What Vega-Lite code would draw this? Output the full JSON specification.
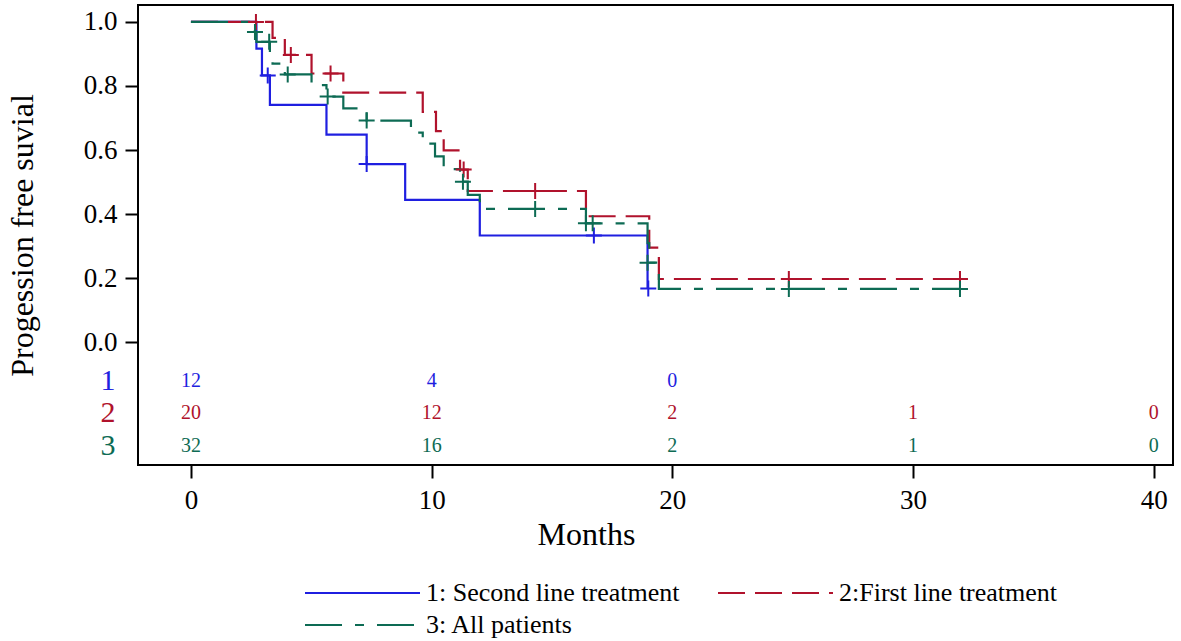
{
  "$schema": "https://vega.github.io/schema/vega-lite/v6.json",
  "width": 1035,
  "height": 460,
  "padding": {"left": 6, "top": 5, "right": 8, "bottom": 0},
  "background": "white",
  "config": {
    "view": {"stroke": "black", "strokeWidth": 2},
    "font": "Liberation Serif",
    "text": {"font": "Liberation Serif"},
    "axis": {
      "grid": false,
      "domain": false,
      "tickColor": "black",
      "tickWidth": 2,
      "tickSize": 13,
      "labelFont": "Liberation Serif",
      "labelFontSize": 27,
      "labelColor": "black",
      "titleFont": "Liberation Serif",
      "titleFontSize": 32,
      "titleFontWeight": "normal",
      "titleColor": "black"
    },
    "legend": {
      "title": null,
      "orient": "none",
      "columns": 2,
      "direction": "horizontal",
      "symbolType": "M0,0L10,0",
      "symbolSize": 529,
      "symbolStrokeWidth": 2,
      "symbolFillColor": "transparent",
      "labelFont": "Liberation Serif",
      "labelFontSize": 26,
      "labelColor": "black",
      "labelOffset": 108,
      "labelLimit": 400,
      "columnPadding": 25,
      "rowPadding": 6
    }
  },
  "datasets": {
    "curves": [
      {"group": "1: Second line treatment", "t": 0, "s": 1},
      {"group": "1: Second line treatment", "t": 2.72, "s": 0.917},
      {"group": "1: Second line treatment", "t": 2.95, "s": 0.833},
      {"group": "1: Second line treatment", "t": 3.28, "s": 0.741},
      {"group": "1: Second line treatment", "t": 5.63, "s": 0.648},
      {"group": "1: Second line treatment", "t": 7.3, "s": 0.556},
      {"group": "1: Second line treatment", "t": 8.9, "s": 0.444},
      {"group": "1: Second line treatment", "t": 12.0, "s": 0.333},
      {"group": "1: Second line treatment", "t": 18.97, "s": 0.167},
      {"group": "2:First line treatment", "t": 0, "s": 1},
      {"group": "2:First line treatment", "t": 3.39, "s": 0.95},
      {"group": "2:First line treatment", "t": 3.9, "s": 0.897},
      {"group": "2:First line treatment", "t": 5.01, "s": 0.839},
      {"group": "2:First line treatment", "t": 6.33, "s": 0.779},
      {"group": "2:First line treatment", "t": 9.63, "s": 0.719},
      {"group": "2:First line treatment", "t": 10.18, "s": 0.659},
      {"group": "2:First line treatment", "t": 10.5, "s": 0.599},
      {"group": "2:First line treatment", "t": 11.18, "s": 0.539},
      {"group": "2:First line treatment", "t": 11.5, "s": 0.472},
      {"group": "2:First line treatment", "t": 16.41, "s": 0.393},
      {"group": "2:First line treatment", "t": 19.04, "s": 0.295},
      {"group": "2:First line treatment", "t": 19.44, "s": 0.197},
      {"group": "2:First line treatment", "t": 31.95, "s": 0.197},
      {"group": "3: All patients", "t": 0, "s": 1},
      {"group": "3: All patients", "t": 2.63, "s": 0.969},
      {"group": "3: All patients", "t": 2.72, "s": 0.938},
      {"group": "3: All patients", "t": 3.28, "s": 0.906},
      {"group": "3: All patients", "t": 3.39, "s": 0.87},
      {"group": "3: All patients", "t": 3.9, "s": 0.836},
      {"group": "3: All patients", "t": 5.01, "s": 0.803},
      {"group": "3: All patients", "t": 5.63, "s": 0.767},
      {"group": "3: All patients", "t": 6.33, "s": 0.73},
      {"group": "3: All patients", "t": 7.3, "s": 0.692},
      {"group": "3: All patients", "t": 9.14, "s": 0.654},
      {"group": "3: All patients", "t": 9.63, "s": 0.62},
      {"group": "3: All patients", "t": 10.14, "s": 0.58},
      {"group": "3: All patients", "t": 10.5, "s": 0.54},
      {"group": "3: All patients", "t": 11.18, "s": 0.501},
      {"group": "3: All patients", "t": 11.5, "s": 0.46},
      {"group": "3: All patients", "t": 12.0, "s": 0.416},
      {"group": "3: All patients", "t": 16.41, "s": 0.371},
      {"group": "3: All patients", "t": 18.97, "s": 0.309},
      {"group": "3: All patients", "t": 19.04, "s": 0.248},
      {"group": "3: All patients", "t": 19.44, "s": 0.166},
      {"group": "3: All patients", "t": 31.95, "s": 0.166}
    ],
    "censored": [
      {"group": "1: Second line treatment", "t": 3.19, "s": 0.833},
      {"group": "1: Second line treatment", "t": 7.3, "s": 0.556},
      {"group": "1: Second line treatment", "t": 16.74, "s": 0.333},
      {"group": "1: Second line treatment", "t": 19.0, "s": 0.167},
      {"group": "2:First line treatment", "t": 2.7, "s": 1},
      {"group": "2:First line treatment", "t": 4.15, "s": 0.897},
      {"group": "2:First line treatment", "t": 5.8, "s": 0.839},
      {"group": "2:First line treatment", "t": 11.33, "s": 0.539},
      {"group": "2:First line treatment", "t": 14.3, "s": 0.472},
      {"group": "2:First line treatment", "t": 24.84, "s": 0.197},
      {"group": "2:First line treatment", "t": 31.95, "s": 0.197},
      {"group": "3: All patients", "t": 2.66, "s": 0.969},
      {"group": "3: All patients", "t": 3.25, "s": 0.938},
      {"group": "3: All patients", "t": 4.02, "s": 0.836},
      {"group": "3: All patients", "t": 5.68, "s": 0.767},
      {"group": "3: All patients", "t": 7.3, "s": 0.692},
      {"group": "3: All patients", "t": 11.3, "s": 0.501},
      {"group": "3: All patients", "t": 14.3, "s": 0.416},
      {"group": "3: All patients", "t": 16.41, "s": 0.371},
      {"group": "3: All patients", "t": 16.69, "s": 0.371},
      {"group": "3: All patients", "t": 18.97, "s": 0.248},
      {"group": "3: All patients", "t": 24.84, "s": 0.166},
      {"group": "3: All patients", "t": 31.95, "s": 0.166}
    ],
    "atrisk": [
      {"arm": "1", "t": 0, "n": 12},
      {"arm": "1", "t": 10, "n": 4},
      {"arm": "1", "t": 20, "n": 0},
      {"arm": "2", "t": 0, "n": 20},
      {"arm": "2", "t": 10, "n": 12},
      {"arm": "2", "t": 20, "n": 2},
      {"arm": "2", "t": 30, "n": 1},
      {"arm": "2", "t": 40, "n": 0},
      {"arm": "3", "t": 0, "n": 32},
      {"arm": "3", "t": 10, "n": 16},
      {"arm": "3", "t": 20, "n": 2},
      {"arm": "3", "t": 30, "n": 1},
      {"arm": "3", "t": 40, "n": 0}
    ]
  },
  "layer": [
    {
      "data": {"name": "curves"},
      "mark": {"type": "line", "interpolate": "step-after", "strokeWidth": 2.2},
      "encoding": {
        "x": {
          "field": "t",
          "type": "quantitative",
          "scale": {"domain": [-2.2, 40.8], "nice": false, "zero": false},
          "axis": {"values": [0, 10, 20, 30, 40], "labelPadding": 9, "titlePadding": 6, "titleX": 448, "labelFont": "Liberation Serif", "titleFont": "Liberation Serif"},
          "title": "Months"
        },
        "y": {
          "field": "s",
          "type": "quantitative",
          "scale": {"domain": [-0.384, 1.053], "nice": false, "zero": false},
          "axis": {"values": [0, 0.2, 0.4, 0.6, 0.8, 1.0], "format": ".1f", "labelPadding": 8, "titlePadding": 44, "labelFont": "Liberation Serif", "titleFont": "Liberation Serif"},
          "title": "Progession free suvial"
        },
        "color": {
          "field": "group",
          "type": "nominal",
          "scale": {
            "domain": ["1: Second line treatment", "2:First line treatment", "3: All patients"],
            "range": ["#1f1fe0", "#b0122c", "#0d6b54"]
          },
          "legend": {"orient": "none", "legendX": 154, "legendY": 575, "labelFont": "Liberation Serif", "labelFontSize": 26}
        },
        "strokeDash": {
          "field": "group",
          "type": "nominal",
          "scale": {
            "domain": ["1: Second line treatment", "2:First line treatment", "3: All patients"],
            "range": [[1, 0], [27, 10], [37, 13, 9, 13]]
          },
          "legend": {"orient": "none", "legendX": 154, "legendY": 575, "labelFont": "Liberation Serif", "labelFontSize": 26}
        }
      }
    },
    {
      "data": {"name": "censored"},
      "mark": {"type": "point", "shape": "M-1,0L1,0M0,-1L0,1", "size": 256, "filled": false, "strokeWidth": 2, "opacity": 1},
      "encoding": {
        "x": {"field": "t", "type": "quantitative"},
        "y": {"field": "s", "type": "quantitative"},
        "stroke": {
          "field": "group",
          "type": "nominal",
          "legend": null,
          "scale": {
            "domain": ["1: Second line treatment", "2:First line treatment", "3: All patients"],
            "range": ["#1f1fe0", "#b0122c", "#0d6b54"]
          }
        }
      }
    },
    {
      "data": {"name": "atrisk"},
      "transform": [{"filter": "datum.arm == '1'"}],
      "layer": [
        {
          "mark": {"type": "text", "font": "Liberation Serif", "fontSize": 20, "color": "#1f1fe0"},
          "encoding": {
            "x": {"field": "t", "type": "quantitative"},
            "y": {"datum": -0.122},
            "text": {"field": "n"}
          }
        },
        {
          "transform": [{"aggregate": [{"op": "count", "as": "c"}], "groupby": ["arm"]}],
          "mark": {"type": "text", "font": "Liberation Serif", "fontSize": 30, "color": "#1f1fe0"},
          "encoding": {
            "x": {"datum": -3.45},
            "y": {"datum": -0.122},
            "text": {"field": "arm"}
          }
        }
      ]
    },
    {
      "data": {"name": "atrisk"},
      "transform": [{"filter": "datum.arm == '2'"}],
      "layer": [
        {
          "mark": {"type": "text", "font": "Liberation Serif", "fontSize": 20, "color": "#b0122c"},
          "encoding": {
            "x": {"field": "t", "type": "quantitative"},
            "y": {"datum": -0.222},
            "text": {"field": "n"}
          }
        },
        {
          "transform": [{"aggregate": [{"op": "count", "as": "c"}], "groupby": ["arm"]}],
          "mark": {"type": "text", "font": "Liberation Serif", "fontSize": 30, "color": "#b0122c"},
          "encoding": {
            "x": {"datum": -3.45},
            "y": {"datum": -0.222},
            "text": {"field": "arm"}
          }
        }
      ]
    },
    {
      "data": {"name": "atrisk"},
      "transform": [{"filter": "datum.arm == '3'"}],
      "layer": [
        {
          "mark": {"type": "text", "font": "Liberation Serif", "fontSize": 20, "color": "#0d6b54"},
          "encoding": {
            "x": {"field": "t", "type": "quantitative"},
            "y": {"datum": -0.325},
            "text": {"field": "n"}
          }
        },
        {
          "transform": [{"aggregate": [{"op": "count", "as": "c"}], "groupby": ["arm"]}],
          "mark": {"type": "text", "font": "Liberation Serif", "fontSize": 30, "color": "#0d6b54"},
          "encoding": {
            "x": {"datum": -3.45},
            "y": {"datum": -0.325},
            "text": {"field": "arm"}
          }
        }
      ]
    }
  ]
}
